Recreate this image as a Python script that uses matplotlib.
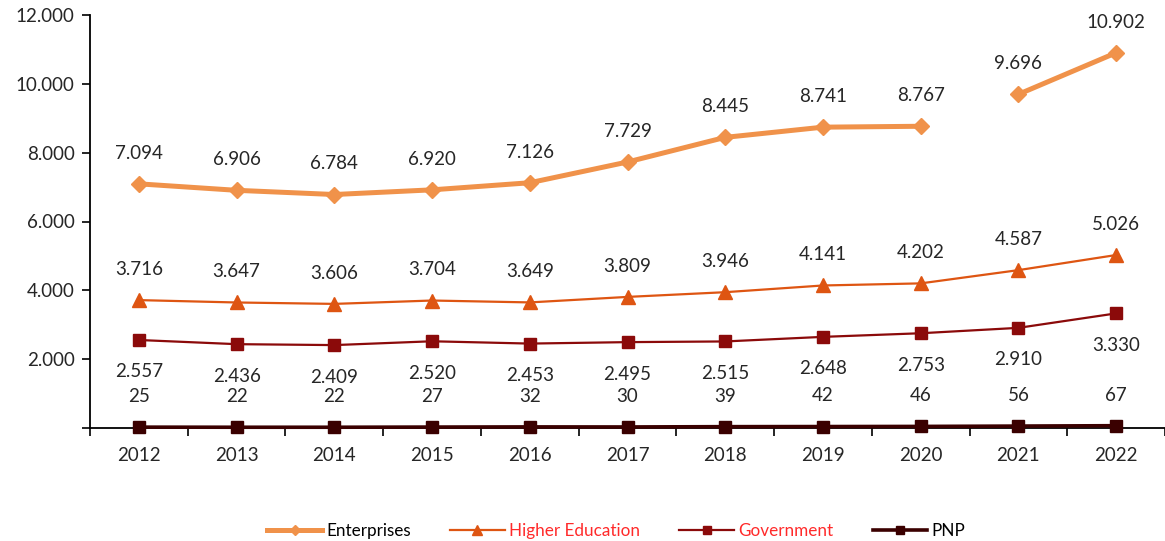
import matplotlib
matplotlib.use("Agg")
import matplotlib.pyplot as plt
from matplotlib.ticker import FixedLocator, FuncFormatter

plt.rcParams['font.family'] = ['Lato', 'DejaVu Sans']

years = [2012, 2013, 2014, 2015, 2016, 2017, 2018, 2019, 2020, 2021, 2022]
enterprises = [7094, 6906, 6784, 6920, 7126, 7729, 8445, 8741, 8767, 9696, 10902]
higher_edu = [3716, 3647, 3606, 3704, 3649, 3809, 3946, 4141, 4202, 4587, 5026]
government = [2557, 2436, 2409, 2520, 2453, 2495, 2515, 2648, 2753, 2910, 3330]
pnp = [25, 22, 22, 27, 32, 30, 39, 42, 46, 56, 67]
# the Enterprises line is broken between these two years
ent_break = 2020

txt = '#262626'


def fmt(v):
    return f"{v:,.0f}".replace(',', '.')


fig = plt.figure(figsize=(11.65, 5.41), dpi=100)
ax = fig.add_axes([90/1165, 1-428/541, 1-90/1165, (428-15)/541])

x = list(range(len(years)))
cut = years.index(ent_break) + 1

series = [
    ('Enterprises', enterprises, '#F0924A', 'D', 3.6, 8, 22, 'black'),
    ('Higher Education', higher_edu, '#DE5512', '^', 1.6, 10, 22, '#FF2A2A'),
    ('Government', government, '#8B0A0A', 's', 1.6, 9, -23, '#FF2A2A'),
    ('PNP', pnp, '#3A0000', 's', 2.6, 9, 22, 'black'),
]

handles = []
for name, vals, col, mk, lw, ms, off, lcol in series:
    if name == 'Enterprises':
        h, = ax.plot(x[:cut], vals[:cut], color=col, marker=mk, lw=lw, ms=ms,
                     clip_on=False, zorder=3)
        ax.plot(x[cut:], vals[cut:], color=col, marker=mk, lw=lw, ms=ms,
                clip_on=False, zorder=3)
    else:
        h, = ax.plot(x, vals, color=col, marker=mk, lw=lw, ms=ms,
                     clip_on=False, zorder=4)
    handles.append((h, name, lcol))
    for xi, v in zip(x, vals):
        ax.annotate(fmt(v), (xi, v), xytext=(0, off), textcoords='offset points',
                    ha='center', va='center', fontsize=13.5, color=txt,
                    annotation_clip=False)

ax.set_xlim(-0.5, len(years) - 0.5)
ax.set_ylim(0, 12000)
ax.set_yticks(range(0, 12001, 2000))
ax.yaxis.set_major_formatter(FuncFormatter(lambda v, p: '' if v == 0 else fmt(v)))
ax.set_xticks(x)
ax.set_xticklabels([str(y) for y in years])
ax.xaxis.set_minor_locator(FixedLocator([i - 0.5 for i in range(len(years) + 1)]))
ax.tick_params(axis='x', which='major', length=0, pad=14, labelsize=13.5, labelcolor=txt)
ax.tick_params(axis='x', which='minor', length=6, width=1.2, direction='out')
ax.tick_params(axis='y', length=6, width=1.2, direction='out', pad=5,
               labelsize=13.5, labelcolor=txt)

for s in ['top', 'right']:
    ax.spines[s].set_visible(False)
ax.spines['left'].set_linewidth(1.3)
ax.spines['bottom'].set_linewidth(1.3)
ax.spines['bottom'].set_zorder(2)

leg = fig.legend([h for h, _, _ in handles], [n for _, n, _ in handles],
                 loc='center', bbox_to_anchor=(0.529, 10/541),
                 ncol=4, frameon=False, fontsize=12.3, handlelength=3.2,
                 handletextpad=0.25, columnspacing=2.3, markerscale=0.7)
for t, (_, _, lcol) in zip(leg.get_texts(), handles):
    t.set_color(lcol)

fig.savefig('out.png', dpi=100)
